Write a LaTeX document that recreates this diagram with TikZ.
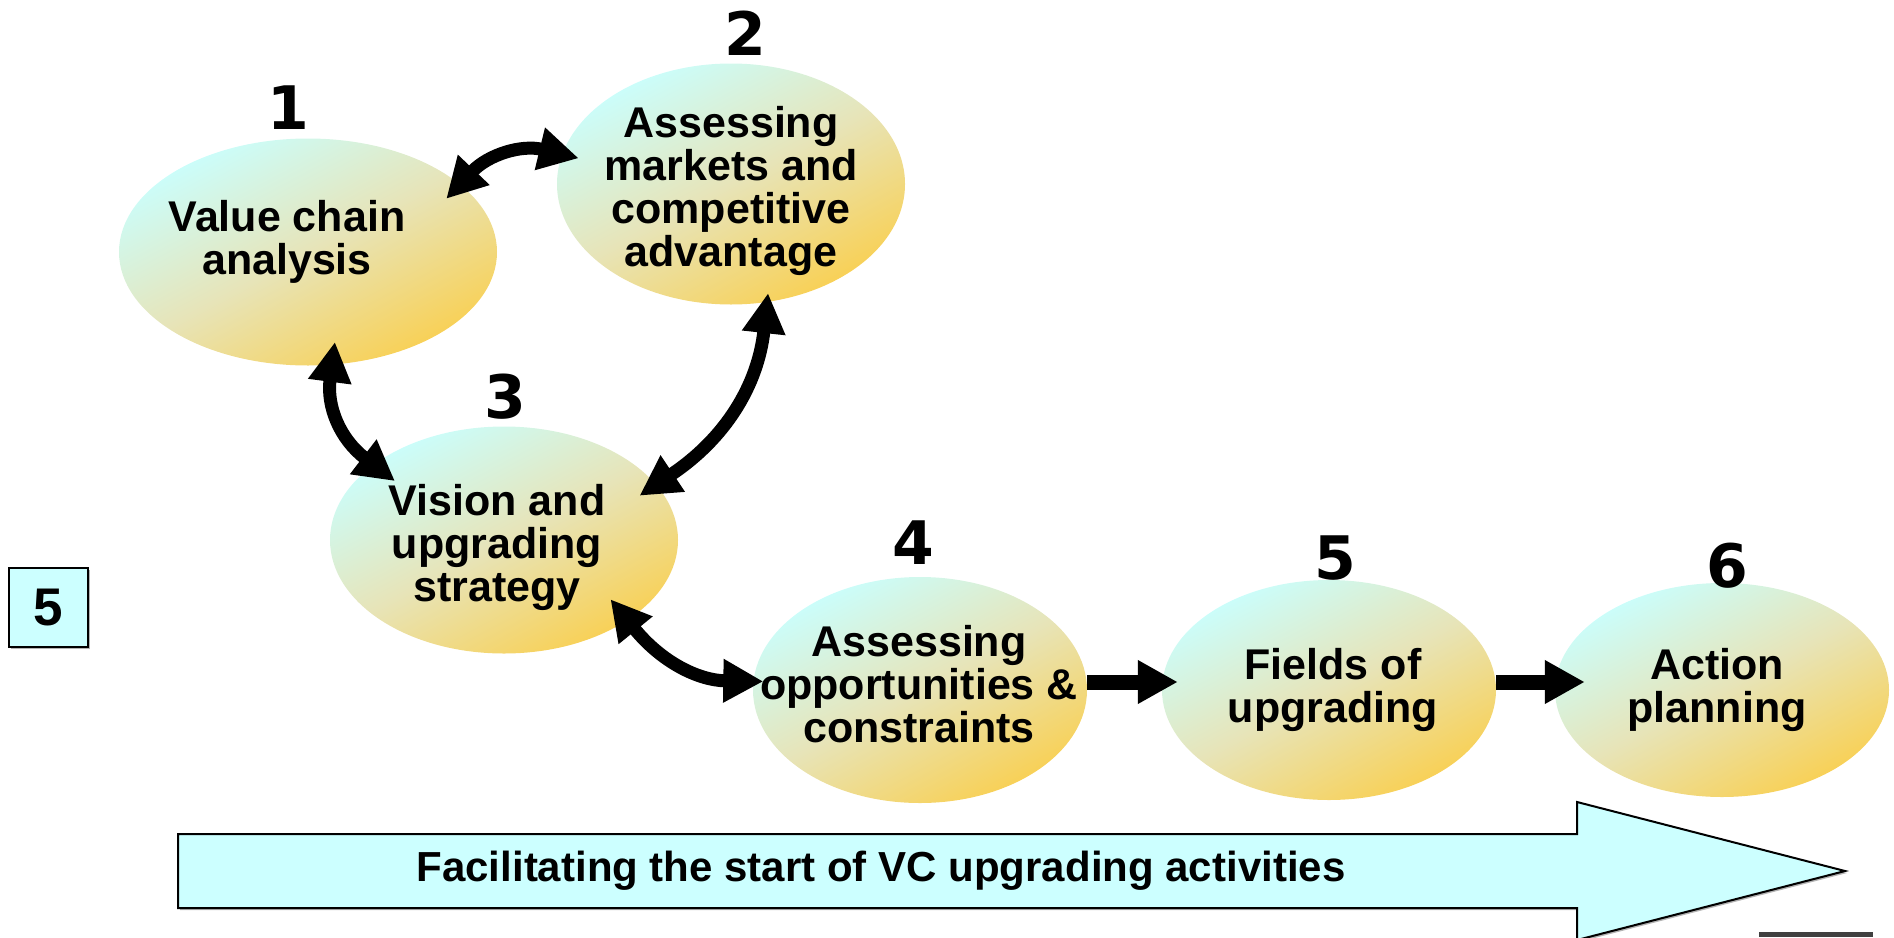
\documentclass[tikz,border=0pt]{standalone}
\usepackage{fontspec}
\setmainfont{Liberation Sans}
\newfontfamily\numfont{DejaVu Sans}
\usetikzlibrary{positioning}
\usetikzlibrary{shapes.geometric}
\usetikzlibrary{arrows.meta}
\usetikzlibrary{shadows}

\definecolor{stagecyan}{HTML}{C9FFFF}
\definecolor{stagemid}{HTML}{E7E4B8}
\definecolor{stagegold}{HTML}{FCCC40}
\definecolor{bandcyan}{HTML}{CCFFFF}

% diagonal fill of the stage ellipses
\pgfdeclareverticalshading{stageshade}{100bp}{
    color(0bp)=(stagegold); color(20bp)=(stagegold); color(50bp)=(stagemid);
    color(76bp)=(stagecyan); color(100bp)=(stagecyan)}

\begin{document}
\begin{tikzpicture}[
    x=1pt, y=-1pt,
    stage/.style={ellipse, inner sep=0pt, shading=stageshade, shading angle=28},
    caption/.style={align=center, inner sep=0pt, font=\bfseries\fontsize{43}{43}\selectfont},
    num/.style={inner sep=0pt, font=\numfont\bfseries\fontsize{60}{60}\selectfont},
    link/.style={{Triangle[length=40pt,width=41pt]}-{Triangle[length=40pt,width=41pt]}, line width=13pt},
    flow/.style={-{Triangle[length=40pt,width=41pt]}, line width=15pt},
    shade box/.style={drop shadow={shadow xshift=2pt, shadow yshift=-2pt, opacity=0.6, fill=gray}}
]
    \path[use as bounding box] (0,0) rectangle (1894,937);

    % Stages of the upgrading process
    \node[stage, minimum width=378pt, minimum height=227pt] (vca) at (308,252) {};
    \node[stage, minimum width=348pt, minimum height=241pt] (mkt) at (731,184) {};
    \node[stage, minimum width=348pt, minimum height=227pt] (vis) at (504,540) {};
    \node[stage, minimum width=334pt, minimum height=226pt] (opp) at (920,690) {};
    \node[stage, minimum width=334pt, minimum height=220pt] (fld) at (1329,690) {};
    \node[stage, minimum width=334pt, minimum height=214pt] (act) at (1722,690) {};

    \node[caption] (vcat) at (287,242) {Value chain\\analysis};
    \node[caption] (mktt) at (731,191) {Assessing\\markets and\\competitive\\advantage};
    \node[caption] (vist) at (497,547) {Vision and\\upgrading\\strategy};
    \node[caption] (oppt) at (919,684) {Assessing\\opportunities \&\\constraints};
    \node[caption] (fldt) at (1333,690) {Fields of\\upgrading};
    \node[caption] (actt) at (1717,690) {Action\\planning};

    % Step numbers
    \node[num] (n1) at (288,108) {1};
    \node[num] (n2) at (745,33) {2};
    \node[num] (n3) at (505,397) {3};
    \node[num] (n4) at (913,543) {4};
    \node[num] (n5) at (1335,558) {5};
    \node[num] (n6) at (1727,566) {6};

    % Feedback loop between the first three stages
    \draw[link, shorten <=-20pt, shorten >=-17pt] (vca.24) to[bend left=30] (mkt.170);
    \draw[link, shorten <=-23pt, shorten >=-27pt] (vca.282) to[bend right=30] (vis.150);
    \draw[link, shorten <=-9pt, shorten >=-20pt] (mkt.287) to[bend left=25] (vis.20);
    \draw[link, shorten <=-27pt, shorten >=-10pt] (vis.327) to[bend right=25] (opp.177);

    % Straight sequence
    \draw[flow, shorten >=-16pt] ([yshift=8pt]opp.east) -- ([yshift=8pt]fld.west);
    \draw[flow, shorten >=-30pt] ([yshift=8pt]fld.east) -- ([yshift=8pt]act.west);

    % Bottom band
    \draw[shade box, fill=bandcyan, line width=2pt] (178,834) -- (1577,834) -- (1577,802)
        -- (1845,871) -- (1577,940) -- (1577,908) -- (178,908) -- cycle;
    \node[caption, font=\bfseries\fontsize{42}{42}\selectfont] (band) at (881,871)
        {Facilitating the start of VC upgrading activities};

    % Section marker
    \node[shade box, draw, line width=2pt, fill=bandcyan, minimum size=79pt, inner sep=0pt,
        font=\bfseries\fontsize{53}{53}\selectfont] (sec) at (48.5,607.5) {5};

    \fill[gray!50!black] (1759,932) rectangle (1873,937);
\end{tikzpicture}
\end{document}
